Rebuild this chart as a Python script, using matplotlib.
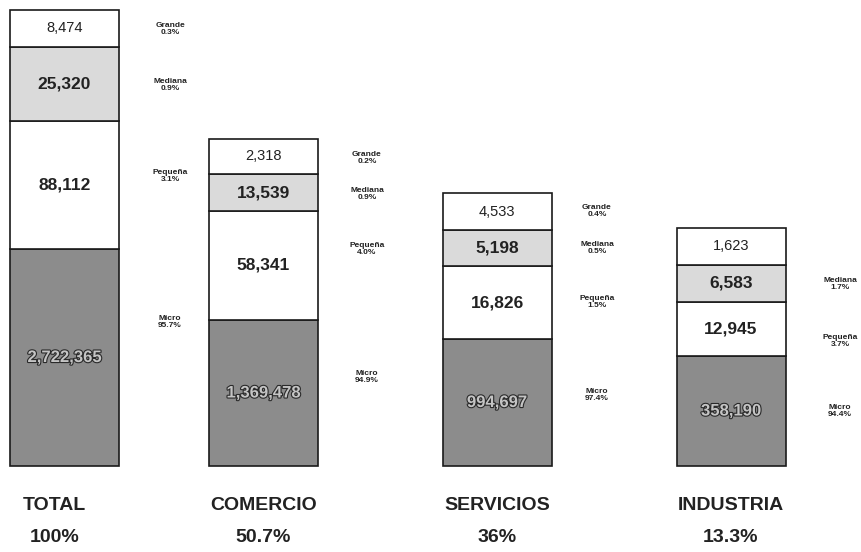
import matplotlib.pyplot as plt
import matplotlib.patheffects as pe
import numpy as np

# data (segment heights are the schematic heights drawn in the picture)
categories = ["TOTAL", "COMERCIO", "SERVICIOS", "INDUSTRIA"]
shares = ["100%", "50.7%", "36%", "13.3%"]
sizes = ["Micro", "Pequeña", "Mediana", "Grande"]

counts = {
    "Micro": [2722365, 1369478, 994697, 358190],
    "Pequeña": [88112, 58341, 16826, 12945],
    "Mediana": [25320, 13539, 5198, 6583],
    "Grande": [8474, 2318, 4533, 1623],
}
pcts = {
    "Micro": ["95.7%", "94.9%", "97.4%", "94.4%"],
    "Pequeña": ["3.1%", "4.0%", "1.5%", "3.7%"],
    "Mediana": ["0.9%", "0.9%", "0.5%", "1.7%"],
    "Grande": ["0.3%", "0.2%", "0.4%", None],
}
drawn_heights = {
    "Micro": [217, 146, 127, 110],
    "Pequeña": [128, 109, 73, 54],
    "Mediana": [74, 37, 36, 37],
    "Grande": [37, 35, 37, 37],
}

# layout
W, H = 861, 552
BASE = H - 466
BAR_X = [64.5, 263.5, 497, 731]
BAR_W = 109
LABEL_X = [170, 367, 597, 840]
LABEL_Y = {  # top-down pixel rows of the side labels
    "Micro": [322, 377, 395, 411],
    "Pequeña": [176, 249, 302, 341],
    "Mediana": [85, 194, 248, 284],
    "Grande": [29, 158, 211, None],
}
FILLS = {"Micro": "#8c8c8c", "Pequeña": "#ffffff", "Mediana": "#dadada", "Grande": "#ffffff"}
FONT = ["Liberation Sans", "DejaVu Sans"]

fig = plt.figure(figsize=(W / 100, H / 100), dpi=100)
ax = fig.add_axes([0, 0, 1, 1])
ax.set_xlim(0, W)
ax.set_ylim(0, H)
ax.axis("off")

bottom = np.full(len(categories), float(BASE))
for size in sizes:
    h = np.array(drawn_heights[size], dtype=float)
    ax.bar(BAR_X, h, width=BAR_W, bottom=bottom, color=FILLS[size],
           edgecolor="#1a1a1a", linewidth=1.2)
    for i, x in enumerate(BAR_X):
        yc = bottom[i] + h[i] / 2
        txt = f"{counts[size][i]:,}"
        if size == "Micro":
            ax.text(x, yc, txt, ha="center", va="center", fontsize=12,
                    family=FONT, color="#c4c4c4", fontweight="bold",
                    path_effects=[pe.withStroke(linewidth=1.6, foreground="#2a2a2a")])
        elif size == "Grande":
            ax.text(x, yc, txt, ha="center", va="center", fontsize=10.5,
                    family=FONT, color="#222222")
        else:
            ax.text(x, yc, txt, ha="center", va="center", fontsize=12.5,
                    family=FONT, color="#222222", fontweight="bold")
        if pcts[size][i] is not None:
            ax.text(LABEL_X[i], H - LABEL_Y[size][i], f"{size}\n{pcts[size][i]}",
                    ha="center", va="center", fontsize=6, family=FONT,
                    fontweight="bold", color="#222222", linespacing=1.15)
    bottom += h

for i, x in enumerate(BAR_X):
    ax.text(x - 10 if i == 0 else x, H - 505, categories[i], ha="center", va="center",
            fontsize=14, family=FONT, fontweight="bold", color="#222222")
    ax.text(x - 10 if i == 0 else x, H - 538, shares[i], ha="center", va="center",
            fontsize=14, family=FONT, fontweight="bold", color="#222222")

fig.savefig("out.png", dpi=100, facecolor="white")
